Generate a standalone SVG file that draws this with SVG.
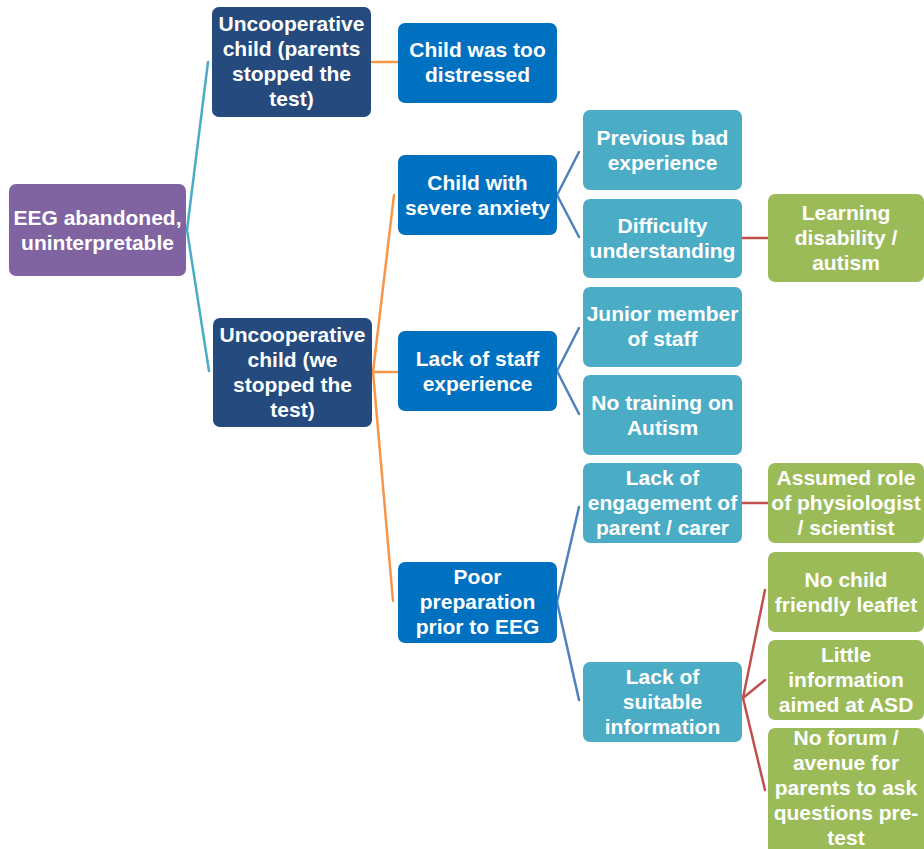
<svg xmlns="http://www.w3.org/2000/svg" width="924" height="849" viewBox="0 0 924 849">
<style>
text{font-family:"Liberation Sans",Arial,sans-serif;font-weight:bold;font-size:21px;fill:#ffffff;text-anchor:middle}
.box{stroke:none}
.root{fill:#8064a2}.l1{fill:#244a7e}.l2{fill:#0070c0}.l3{fill:#4bacc6}.l4{fill:#9bbb59}
.c{fill:none;stroke-width:2.5;stroke-linecap:round;stroke-linejoin:round}
.teal{stroke:#4bacc6}.orange{stroke:#f79646}.blue{stroke:#4f81bd}.red{stroke:#c0504d}
</style>
<rect width="924" height="849" fill="#ffffff"/>
<g id="connectors">
<path class="c teal" d="M208,62 L187,230 L209,371"/>
<path class="c orange" d="M372,62 L398,62"/>
<path class="c orange" d="M394,195 L373,372 L393,601"/>
<path class="c orange" d="M373,372 L398,372"/>
<path class="c blue" d="M579,152 L557,195 L579,237"/>
<path class="c blue" d="M579,328 L557,371 L579,414"/>
<path class="c blue" d="M579,507 L557,602 L579,700"/>
<path class="c red" d="M742,238 L768,238"/>
<path class="c red" d="M742,503 L768,503"/>
<path class="c red" d="M765,590 L743,698 L765,790"/>
<path class="c red" d="M743,698 L765,680"/>
</g>
<g id="n_root"><rect class="box root" x="9" y="184" width="177" height="92" rx="7"/>
<text x="97.5" y="225">EEG abandoned,</text><text x="97.5" y="250">uninterpretable</text></g>
<g id="n_parents"><rect class="box l1" x="212" y="7" width="159" height="110" rx="7"/>
<text x="291.5" y="31">Uncooperative</text><text x="291.5" y="56">child (parents</text><text x="291.5" y="81">stopped the</text><text x="291.5" y="106">test)</text></g>
<g id="n_we"><rect class="box l1" x="213" y="318" width="159" height="109" rx="7"/>
<text x="292.5" y="342">Uncooperative</text><text x="292.5" y="367">child (we</text><text x="292.5" y="392">stopped the</text><text x="292.5" y="417">test)</text></g>
<g id="n_distressed"><rect class="box l2" x="398" y="23" width="159" height="80" rx="7"/>
<text x="477.5" y="57">Child was too</text><text x="477.5" y="82">distressed</text></g>
<g id="n_anxiety"><rect class="box l2" x="398" y="155" width="159" height="80" rx="7"/>
<text x="477.5" y="190">Child with</text><text x="477.5" y="215">severe anxiety</text></g>
<g id="n_staff"><rect class="box l2" x="398" y="331" width="159" height="80" rx="7"/>
<text x="477.5" y="366">Lack of staff</text><text x="477.5" y="391">experience</text></g>
<g id="n_prep"><rect class="box l2" x="398" y="562" width="159" height="81" rx="7"/>
<text x="477.5" y="584">Poor</text><text x="477.5" y="609">preparation</text><text x="477.5" y="634">prior to EEG</text></g>
<g id="n_previous"><rect class="box l3" x="583" y="110" width="159" height="80" rx="7"/>
<text x="662.5" y="145">Previous bad</text><text x="662.5" y="170">experience</text></g>
<g id="n_difficulty"><rect class="box l3" x="583" y="199" width="159" height="79" rx="7"/>
<text x="662.5" y="233">Difficulty</text><text x="662.5" y="258">understanding</text></g>
<g id="n_junior"><rect class="box l3" x="583" y="287" width="159" height="80" rx="7"/>
<text x="662.5" y="321">Junior member</text><text x="662.5" y="346">of staff</text></g>
<g id="n_training"><rect class="box l3" x="583" y="375" width="159" height="80" rx="7"/>
<text x="662.5" y="410">No training on</text><text x="662.5" y="435">Autism</text></g>
<g id="n_engagement"><rect class="box l3" x="583" y="463" width="159" height="80" rx="7"/>
<text x="662.5" y="485">Lack of</text><text x="662.5" y="510">engagement of</text><text x="662.5" y="535">parent / carer</text></g>
<g id="n_suitable"><rect class="box l3" x="583" y="662" width="159" height="80" rx="7"/>
<text x="662.5" y="684">Lack of</text><text x="662.5" y="709">suitable</text><text x="662.5" y="734">information</text></g>
<g id="n_learning"><rect class="box l4" x="768" y="194" width="156" height="88" rx="7"/>
<text x="846" y="220">Learning</text><text x="846" y="245">disability /</text><text x="846" y="270">autism</text></g>
<g id="n_assumed"><rect class="box l4" x="768" y="463" width="156" height="80" rx="7"/>
<text x="846" y="485">Assumed role</text><text x="846" y="510">of physiologist</text><text x="846" y="535">/ scientist</text></g>
<g id="n_leaflet"><rect class="box l4" x="768" y="552" width="156" height="80" rx="7"/>
<text x="846" y="587">No child</text><text x="846" y="612">friendly leaflet</text></g>
<g id="n_asd"><rect class="box l4" x="768" y="640" width="156" height="80" rx="7"/>
<text x="846" y="662">Little</text><text x="846" y="687">information</text><text x="846" y="712">aimed at ASD</text></g>
<g id="n_forum"><rect class="box l4" x="768" y="728" width="156" height="130" rx="7"/>
<text x="846" y="745">No forum /</text><text x="846" y="770">avenue for</text><text x="846" y="795">parents to ask</text><text x="846" y="820">questions pre-</text><text x="846" y="845">test</text></g>
</svg>
